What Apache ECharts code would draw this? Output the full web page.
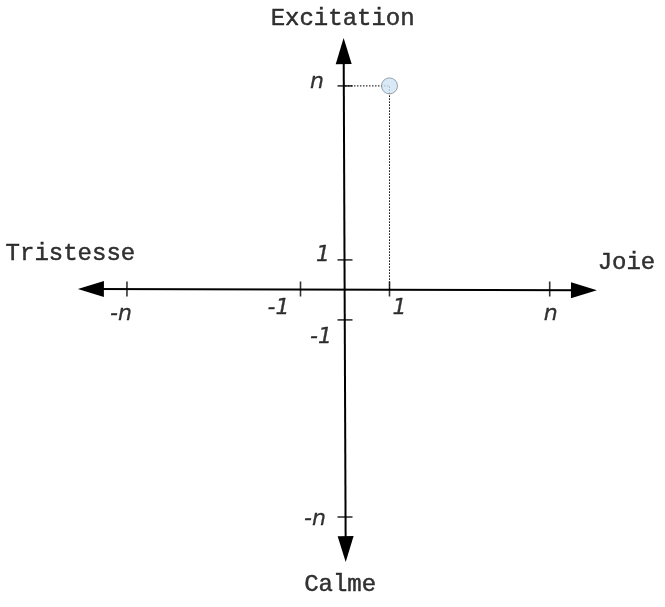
<!DOCTYPE html>
<html>
<head>
<meta charset="utf-8">
<script src="https://cdn.jsdelivr.net/npm/echarts@6/dist/echarts.min.js"></script>
<style>html,body{margin:0;padding:0;background:#fff}#c{width:665px;height:607px}</style>
</head>
<body>
<div id="c"></div>
<script>
// ---- data (diagram units; one unit = distance from origin to tick "1") ----
const xTickLabels = ['-n', '-1', '1', 'n'];
const xTickValues = [-4.9, -1, 1, 4.6];
const yTickLabels = ['n', '1', '-1', '-n'];
const yTickValues = [6.77, 0.97, -1.03, -7.6];
// axis arrow positions (arrow-head centres)
const hAxisEnds = [[-5.71, 0], [5.37, -0.04]];
const vAxisEnds = [[0.015, -8.67], [-0.03, 7.93]];
const axisNames = ['Tristesse', 'Joie', 'Calme', 'Excitation'];
const point = [1, 6.77];

// ---- style ----
const xLabelOffsets = [[-6, 25], [-22, 19], [10, 19], [1, 25]];
const yLabelOffsets = [[-28, -4], [-22, -5], [-24, 17], [-30, 2]];
const nameOffsets = [[-20.5, -35], [42.5, -27.5], [-5.5, 36], [-1, -32.5]];
const tickFont = { fontFamily: 'DejaVu Sans', fontStyle: 'italic', fontSize: 22, color: '#000', textBorderColor: '#000', textBorderWidth: 0.3 };
const nameFont = { fontFamily: 'Liberation Mono', fontSize: 24, color: '#000', textBorderColor: '#000', textBorderWidth: 0.45 };

const chart = echarts.init(document.getElementById('c'), null, { renderer: 'canvas' });

const nameAnchors = [hAxisEnds[0], hAxisEnds[1], vAxisEnds[0], vAxisEnds[1]];

chart.setOption({
  animation: false,
  backgroundColor: '#fff',
  grid: { left: 33.5, right: 8.5, top: 4, bottom: 33 },
  xAxis: { type: 'value', min: -7, max: 7, show: false },
  yAxis: { type: 'value', min: -9.5, max: 9.5, show: false },
  series: [
    {
      type: 'line', data: [], silent: true,
      markLine: {
        silent: true, animation: false,
        symbol: ['triangle', 'triangle'], symbolSize: [16, 26],
        label: { show: false },
        lineStyle: { color: '#000', width: 2, type: 'solid' },
        itemStyle: { color: '#000' },
        emphasis: { disabled: true },
        data: [
          [{ coord: hAxisEnds[0] }, { coord: hAxisEnds[1] }],
          [{ coord: vAxisEnds[0] }, { coord: vAxisEnds[1] }]
        ]
      }
    },
    {
      type: 'line', silent: true, symbol: 'none', z: 1,
      lineStyle: { color: '#000', width: 1, type: [1.5, 1.5] },
      data: [[0, point[1]], point, [point[0], 0]]
    },
    {
      type: 'scatter', silent: true, clip: false, z: 3,
      symbol: 'rect', symbolSize: [1.6, 15],
      itemStyle: { color: '#000' },
      data: xTickValues.map((v, i) => ({
        value: [v, 0],
        label: { show: true, position: 'inside', formatter: xTickLabels[i], offset: xLabelOffsets[i], ...tickFont }
      }))
    },
    {
      type: 'scatter', silent: true, clip: false, z: 3,
      symbol: 'rect', symbolSize: [15, 1.6],
      itemStyle: { color: '#000' },
      data: yTickValues.map((v, i) => ({
        value: [0, v],
        label: { show: true, position: 'inside', formatter: yTickLabels[i], offset: yLabelOffsets[i], ...tickFont }
      }))
    },
    {
      type: 'scatter', silent: true, clip: false, z: 4,
      symbol: 'circle', symbolSize: 16,
      itemStyle: { color: '#d0e3f4', borderColor: '#7f8b98', borderWidth: 1 },
      data: [point]
    },
    {
      type: 'scatter', silent: true, clip: false, z: 5,
      symbolSize: 1, itemStyle: { color: 'rgba(0,0,0,0)' },
      data: nameAnchors.map((p, i) => ({
        value: p,
        label: { show: true, position: 'inside', formatter: axisNames[i], offset: nameOffsets[i], ...nameFont }
      }))
    }
  ]
});
</script>
</body>
</html>
